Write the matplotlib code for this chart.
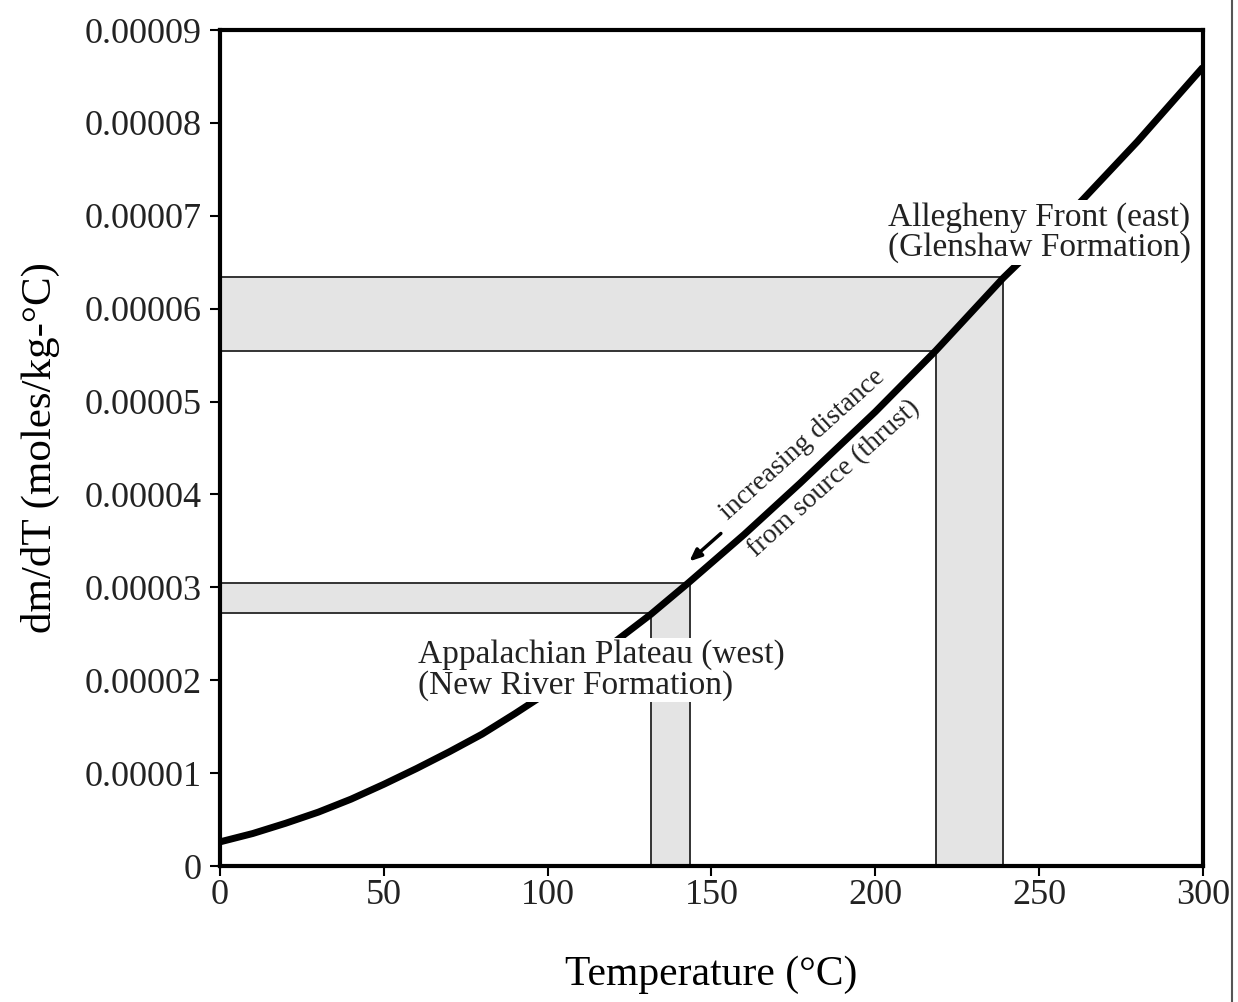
import matplotlib
matplotlib.use('Agg')
import matplotlib.pyplot as plt
from matplotlib.lines import Line2D

# curve
temps = [0, 10, 20, 30, 40, 50, 60, 70, 80, 90, 100, 110, 120, 131.5, 143,
         160, 177, 200, 218.5, 239, 260, 280, 300]
dmdt = [0.26e-5, 0.35e-5, 0.46e-5, 0.58e-5, 0.72e-5, 0.88e-5, 1.05e-5,
        1.23e-5, 1.42e-5, 1.64e-5, 1.87e-5, 2.13e-5, 2.40e-5, 2.71e-5,
        3.05e-5, 3.57e-5, 4.12e-5, 4.89e-5, 5.55e-5, 6.33e-5, 7.05e-5,
        7.80e-5, 8.60e-5]

# shaded ranges (T low, T high, value low, value high)
plateau = [131.5, 143.5, 2.72e-5, 3.05e-5]
front = [218.5, 239.0, 5.55e-5, 6.34e-5]

xticks = [0, 50, 100, 150, 200, 250, 300]
yticks = [0, 1e-5, 2e-5, 3e-5, 4e-5, 5e-5, 6e-5, 7e-5, 8e-5, 9e-5]
ylabels = ['0', '0.00001', '0.00002', '0.00003', '0.00004', '0.00005',
           '0.00006', '0.00007', '0.00008', '0.00009']

plt.rcParams['font.family'] = ['Liberation Serif', 'DejaVu Serif']

fig = plt.figure()
fig.set_size_inches(12.38, 10.02)
ax = fig.add_axes([0.1777, 0.1357, 0.9717 - 0.1777, 0.970 - 0.1357])

# L-shaped gray bands
for tl, tr, vl, vh in (plateau, front):
    ax.fill([0, tr, tr, tl, tl, 0], [vh, vh, 0, 0, vl, vl],
            facecolor='#e4e4e4', edgecolor='#333333', linewidth=1.4,
            zorder=1)

ax.plot(temps, dmdt, color='black', linewidth=5, zorder=3,
        solid_capstyle='butt')

ax.set_xlim(0, 300)
ax.set_ylim(0, 9e-5)
ax.set_xticks(xticks)
ax.set_xticklabels([str(t) for t in xticks])
ax.set_yticks(yticks)
ax.set_yticklabels(ylabels)
ax.tick_params(direction='out', length=7, width=1.5, labelsize=26,
               labelcolor='#222222')
ax.tick_params(axis='x', pad=2)
ax.tick_params(axis='y', pad=6)
for s in ax.spines.values():
    s.set_linewidth(3)
    s.set_zorder(4)

ax.set_xlabel('Temperature (°C)', fontsize=30, labelpad=32)
ax.set_ylabel('dm/dT (moles/kg-°C)', fontsize=31, labelpad=18)

box = dict(facecolor='white', edgecolor='none', pad=1)
ax.text(203.8, 6.82e-5, 'Allegheny Front (east)\n(Glenshaw Formation)',
        fontsize=24, ha='left', va='center', linespacing=1.0,
        color='#222222', bbox=box, zorder=5)
ax.text(60.4, 2.11e-5, 'Appalachian Plateau (west)\n(New River Formation)',
        fontsize=24, ha='left', va='center', linespacing=1.0,
        color='#222222', bbox=box, zorder=5)

ax.text(182.6, 4.35e-5, 'increasing distance\nfrom source (thrust)',
        fontsize=20, ha='center', va='center', rotation=42,
        rotation_mode='anchor', linespacing=2.1, color='#222222',
        zorder=5)
ax.annotate('', xy=(142.6, 3.26e-5), xytext=(153.5, 3.60e-5),
            arrowprops=dict(arrowstyle='-|>,head_length=0.7,head_width=0.3',
                            color='black', lw=2.5))

# page edge line on the right
fig.add_artist(Line2D([1232 / 1238] * 2, [0, 1], transform=fig.transFigure,
                      color='#555555', linewidth=1.5))

fig.savefig('out.png', dpi=100)
